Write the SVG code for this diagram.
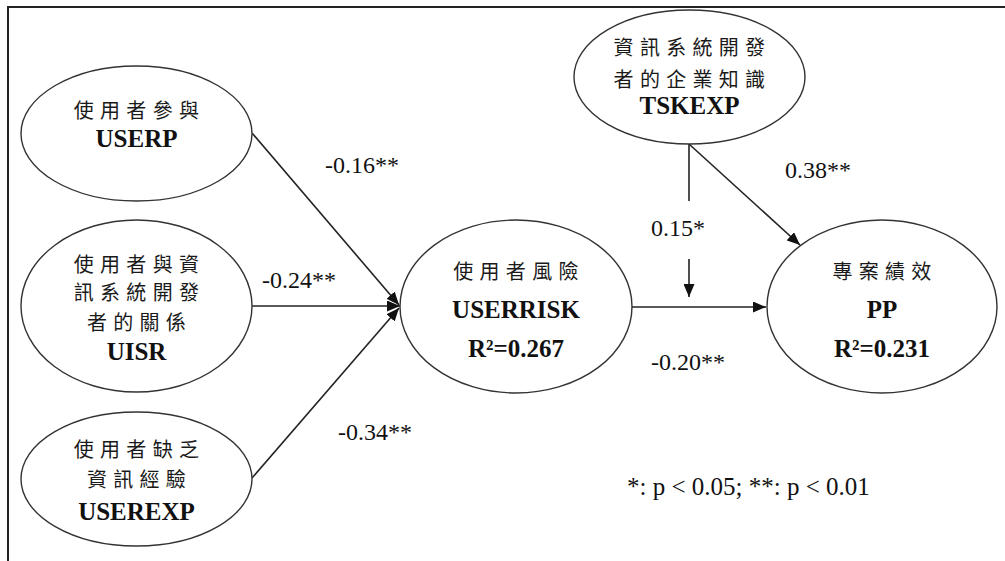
<svg xmlns="http://www.w3.org/2000/svg" width="1005" height="561" viewBox="0 0 1005 561">
  <style>
    .node ellipse { fill: #ffffff; stroke: #333333; stroke-width: 1.4; }
    .zh { font-family: "Noto Sans CJK TC", "Noto Sans CJK SC", sans-serif; font-size: 20px; letter-spacing: 6.3px; fill: #1a1a1a; text-anchor: middle; }
    .en { font-family: "Liberation Serif", "Times New Roman", serif; font-size: 25px; font-weight: bold; fill: #111111; text-anchor: middle; }
    .lbl { font-family: "Liberation Serif", "Times New Roman", serif; font-size: 24px; fill: #111111; }
    .conn line { stroke: #222222; stroke-width: 1.6; fill: none; }
  </style>
  <defs>
    <marker id="arr" markerUnits="userSpaceOnUse" markerWidth="13" markerHeight="11" refX="13" refY="5.5" orient="auto">
      <path d="M0,0 L13,5.5 L0,11 z" fill="#111111"/>
    </marker>
  </defs>
  <rect x="0" y="0" width="1005" height="561" fill="#ffffff"/>
  <path d="M8,561 V7 H1005" fill="none" stroke="#222222" stroke-width="2"/>

  <g class="conn" id="connectors">
    <line x1="252" y1="133" x2="399" y2="305" marker-end="url(#arr)"/>
    <line x1="252" y1="306" x2="400" y2="306" marker-end="url(#arr)"/>
    <line x1="252" y1="478" x2="399" y2="308" marker-end="url(#arr)"/>
    <line x1="632" y1="307" x2="766" y2="307" marker-end="url(#arr)"/>
    <line x1="689" y1="144" x2="689" y2="201"/>
    <line x1="689" y1="259" x2="689" y2="297" marker-end="url(#arr)"/>
    <line x1="689" y1="144" x2="800" y2="245" marker-end="url(#arr)"/>
  </g>

  <g id="USERP" class="node">
    <ellipse cx="136.5" cy="133.5" rx="115.5" ry="67.5"/>
    <text class="zh" x="139.5" y="118">使用者參與</text>
    <text class="en" x="136.5" y="147">USERP</text>
  </g>
  <g id="UISR" class="node">
    <ellipse cx="136.5" cy="306" rx="115.5" ry="86"/>
    <text class="zh" x="139.5" y="272">使用者與資</text>
    <text class="zh" x="139.5" y="300">訊系統開發</text>
    <text class="zh" x="139.5" y="330">者的關係</text>
    <text class="en" x="136.5" y="360">UISR</text>
  </g>
  <g id="USEREXP" class="node">
    <ellipse cx="136.5" cy="479" rx="115.5" ry="67"/>
    <text class="zh" x="139.5" y="457">使用者缺乏</text>
    <text class="zh" x="139.5" y="487">資訊經驗</text>
    <text class="en" x="136.5" y="520">USEREXP</text>
  </g>
  <g id="USERRISK" class="node">
    <ellipse cx="516" cy="306.5" rx="116" ry="86.5"/>
    <text class="zh" x="519" y="279">使用者風險</text>
    <text class="en" x="516" y="318">USERRISK</text>
    <text class="en" x="516" y="357">R²=0.267</text>
  </g>
  <g id="TSKEXP" class="node">
    <ellipse cx="689.5" cy="77" rx="115.5" ry="67"/>
    <text class="zh" x="692.5" y="55">資訊系統開發</text>
    <text class="zh" x="692.5" y="87">者的企業知識</text>
    <text class="en" x="689.5" y="114">TSKEXP</text>
  </g>
  <g id="PP" class="node">
    <ellipse cx="882" cy="306.5" rx="115" ry="86.5"/>
    <text class="zh" x="885" y="279">專案績效</text>
    <text class="en" x="882" y="318">PP</text>
    <text class="en" x="882" y="357">R²=0.231</text>
  </g>

  <g id="labels">
    <text class="lbl" x="325" y="173">-0.16**</text>
    <text class="lbl" x="262" y="288">-0.24**</text>
    <text class="lbl" x="338" y="440">-0.34**</text>
    <text class="lbl" x="785" y="178">0.38**</text>
    <text class="lbl" x="651" y="236">0.15*</text>
    <text class="lbl" x="651" y="370">-0.20**</text>
    <text class="lbl" x="627" y="495" style="font-size:25px">*: p &lt; 0.05; **: p &lt; 0.01</text>
  </g>
</svg>
